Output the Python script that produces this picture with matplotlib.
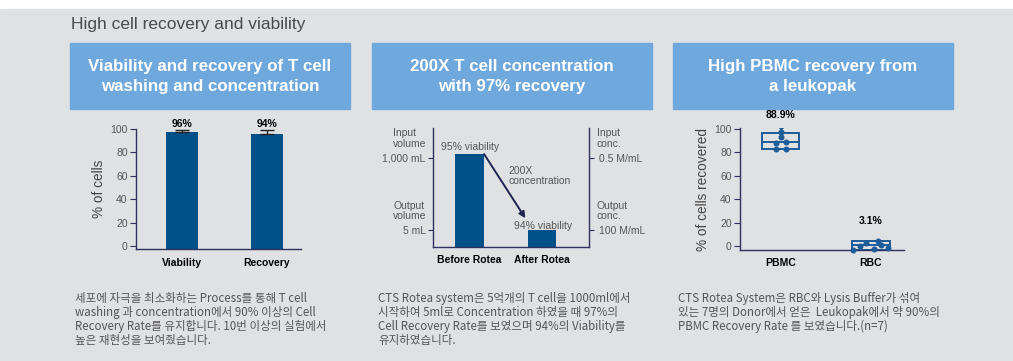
import matplotlib.pyplot as plt
import matplotlib.transforms as mtransforms
from matplotlib.patches import Rectangle

W, H = 1013, 361
BG = '#e0e1e3'
HEAD = '#6fa8dc'
BAR = '#00508a'
SPINE = '#2f3160'
TXT = '#4a4a4a'
BOX = '#1d5c98'

plt.rcParams['font.family'] = ['Liberation Sans', 'Noto Sans CJK KR', 'DejaVu Sans']

# --- data ---
title = 'High cell recovery and viability'
headers = ['Viability and recovery of T cell\nwashing and concentration',
           '200X T cell concentration\nwith 97% recovery',
           'High PBMC recovery from\na leukopak']

# chart 1
c1_labels = ['Viability', 'Recovery']
c1_values = [97, 95.5]
c1_err = [1.5, 3.0]
c1_text = ['96%', '94%']

# chart 2 (bars not to scale)
c2_labels = ['Before Rotea', 'After Rotea']
c2_heights = [78, 14]
c2_viab = ['95% viability', '94% viability']
c2_ticks = [75, 14]
c2_left_ticks = ['1,000 mL', '5 mL']
c2_left_top = ['Input\nvolume', 'Output\nvolume']
c2_right_ticks = ['0.5 M/mL', '100 M/mL']
c2_right_top = ['Input\nconc.', 'Output\nconc.']

# chart 3
c3_labels = ['PBMC', 'RBC']
c3_q1 = [83, -3]
c3_med = [89, 0.5]
c3_q3 = [97, 4.5]
c3_lo = [83, -3]
c3_hi = [102.5, 4.5]
c3_text = ['88.9%', '3.1%']
pbmc_pts = [102.5, 97.5, 93.5, 88, 89, 83, 83]
pbmc_jit = [0, 0, 0, -0.055, 0.055, -0.055, 0.055]
rbc_pts = [-3, 0.3, -2.6, 4.5, -1.5, 2.8, 1.0]
rbc_jit = [-0.2, -0.12, 0.04, 0.08, 0.19, -0.05, 0.12]

body = ['세포에 자극을 최소화하는 Process를 통해 T cell\nwashing 과 concentration에서 90% 이상의 Cell\n'
        'Recovery Rate를 유지합니다. 10번 이상의 실험에서\n높은 재현성을 보여줬습니다.',
        'CTS Rotea system은 5억개의 T cell을 1000ml에서\n시작하여 5ml로 Concentration 하였을 때 97%의\n'
        'Cell Recovery Rate를 보였으며 94%의 Viability를\n유지하였습니다.',
        'CTS Rotea System은 RBC와 Lysis Buffer가 섞여\n있는 7명의 Donor에서 얻은  Leukopak에서 약 90%의\n'
        'PBMC Recovery Rate 를 보였습니다.(n=7)']


def rect(x0, y0, x1, y1):
    return [x0 / W, 1 - y1 / H, (x1 - x0) / W, (y1 - y0) / H]


def fx(x):
    return x / W


def fy(y):
    return 1 - y / H


fig = plt.figure(figsize=(W / 100, H / 100), dpi=100)
fig.patch.set_facecolor('white')
fig.add_artist(Rectangle((0, 0), 1, fy(9), transform=fig.transFigure, color=BG, zorder=-5))

fig.text(fx(71), fy(25), title, fontsize=12.5, color=TXT, va='center', ha='left')

for x0, h in zip([70, 372, 673], headers):
    fig.add_artist(Rectangle((fx(x0), fy(109)), 280 / W, 66 / H, transform=fig.transFigure,
                             color=HEAD, zorder=-4))
    fig.text(fx(x0 + 140), fy(76.5), h, fontsize=12.2, fontweight='bold', color='white',
             ha='center', va='center', linespacing=1.4)

for x0, t in zip([75, 378, 678], body):
    fig.text(fx(x0), fy(292), t, fontsize=8.3, color='#555555', ha='left', va='top',
             linespacing=1.1, family=['Noto Sans CJK KR', 'DejaVu Sans'])


def style(ax):
    ax.set_facecolor('none')
    for s in ax.spines.values():
        s.set_color(SPINE)
        s.set_linewidth(1)
    ax.tick_params(axis='y', colors=SPINE, labelcolor='#555555', labelsize=7.5, length=4, width=0.8, pad=2)
    ax.tick_params(axis='x', length=0, labelsize=7.5, pad=6)
    for lab in ax.get_xticklabels():
        lab.set_fontweight('bold')


# chart 1
ax1 = fig.add_axes(rect(136, 128.7, 301, 249.3))
ymin1 = -2.8
x1 = range(len(c1_values))
ax1.bar(x1, [v - ymin1 for v in c1_values], bottom=ymin1, width=0.37, color=BAR, zorder=2)
ax1.errorbar(x1, c1_values, yerr=[[0] * 2, c1_err], fmt='none', ecolor='#222222', elinewidth=1,
             capsize=5, capthick=1, zorder=3)
for i, t in enumerate(c1_text):
    ax1.text(i, 104, t, ha='center', va='center', fontsize=7.5, fontweight='bold')
ax1.set_xlim(-0.54, 1.4)
ax1.set_ylim(ymin1, 100)
ax1.set_yticks([0, 20, 40, 60, 80, 100])
ax1.set_xticks(list(x1), c1_labels)
ax1.spines[['top', 'right']].set_visible(False)
ax1.set_ylabel('% of cells', fontsize=9.8, color='#444444', labelpad=3)
style(ax1)

# chart 2
ax2 = fig.add_axes(rect(433.3, 128, 589, 246.7))
x2 = range(len(c2_heights))
ax2.bar(x2, c2_heights, width=0.4, color=BAR, zorder=2)
ax2.set_xlim(-0.503, 1.65)
ax2.set_ylim(0, 100)
ax2.set_xticks(list(x2), c2_labels)
ax2.spines['top'].set_visible(False)
ax2.set_yticks(c2_ticks, c2_left_ticks)
style(ax2)
ax2.tick_params(axis='y', right=True, length=3.5)
ax2r = ax2.secondary_yaxis('right')
ax2r.set_yticks(c2_ticks, c2_right_ticks)
ax2r.spines['right'].set_visible(False)
ax2r.tick_params(axis='y', length=0, labelcolor='#555555', labelsize=7.5, pad=7)
ax2.tick_params(axis='y', labelright=False)
tl = mtransforms.blended_transform_factory(ax2.transAxes, ax2.transData)
for yv, t in zip(c2_ticks, c2_left_top):
    ax2.annotate(t, xy=(0, yv), xycoords=tl, xytext=(-6.5, 19), textcoords='offset pixels',
                 ha='right', va='center', multialignment='left', fontsize=7.5, color='#555555',
                 linespacing=1.1)
for yv, t in zip(c2_ticks, c2_right_top):
    ax2.annotate(t, xy=(1, yv), xycoords=tl, xytext=(7.7, 19), textcoords='offset pixels',
                 ha='left', va='center', multialignment='left', fontsize=7.5, color='#555555',
                 linespacing=1.1)
ax2.annotate('', xy=(0.77, 24), xytext=(0.2, c2_heights[0]),
             arrowprops=dict(arrowstyle='-|>', color='#1f2452', lw=1.4, mutation_scale=9, shrinkA=0, shrinkB=0))
ax2.text(0, c2_heights[0] + 6, c2_viab[0], ha='center', va='center', fontsize=7.5, color='#555555')
ax2.text(1.01, c2_heights[1] + 3.5, c2_viab[1], ha='center', va='center', fontsize=7.5, color='#555555')
ax2.text(0.53, 59.6, '200X\nconcentration', ha='left', va='center', fontsize=7.5, color='#555555',
         linespacing=1.1)

# chart 3
ax3 = fig.add_axes(rect(740, 128.3, 904, 250))
stats = [dict(q1=a, med=b, q3=c, whislo=d, whishi=e, fliers=[], label=l)
         for a, b, c, d, e, l in zip(c3_q1, c3_med, c3_q3, c3_lo, c3_hi, c3_labels)]
ax3.bxp(stats, positions=[0, 1], widths=0.42, showfliers=False, patch_artist=True,
        boxprops=dict(facecolor='none', edgecolor=BOX, linewidth=1.4),
        medianprops=dict(color=BOX, linewidth=1.4),
        whiskerprops=dict(color=BOX, linewidth=1.4),
        capprops=dict(color=BOX, linewidth=1.4), capwidths=0.13)
ax3.scatter([0 + j for j in pbmc_jit], pbmc_pts, s=11, color=BOX, zorder=3)
ax3.scatter([1 + j for j in rbc_jit], rbc_pts, s=11, color=BOX, zorder=3, clip_on=False)
ax3.text(0, 112, c3_text[0], ha='center', va='center', fontsize=7.5, fontweight='bold')
ax3.text(1, 21.5, c3_text[1], ha='center', va='center', fontsize=7.5, fontweight='bold')
ax3.set_xlim(-0.45, 1.37)
ax3.set_ylim(-3.4, 100.6)
ax3.set_yticks([0, 20, 40, 60, 80, 100])
ax3.set_xticks([0, 1], c3_labels)
ax3.spines[['top', 'right']].set_visible(False)
ax3.set_ylabel('% of cells recovered', fontsize=9.8, color='#444444', labelpad=3)
style(ax3)

fig.savefig('out.png', dpi=100, facecolor='white')
